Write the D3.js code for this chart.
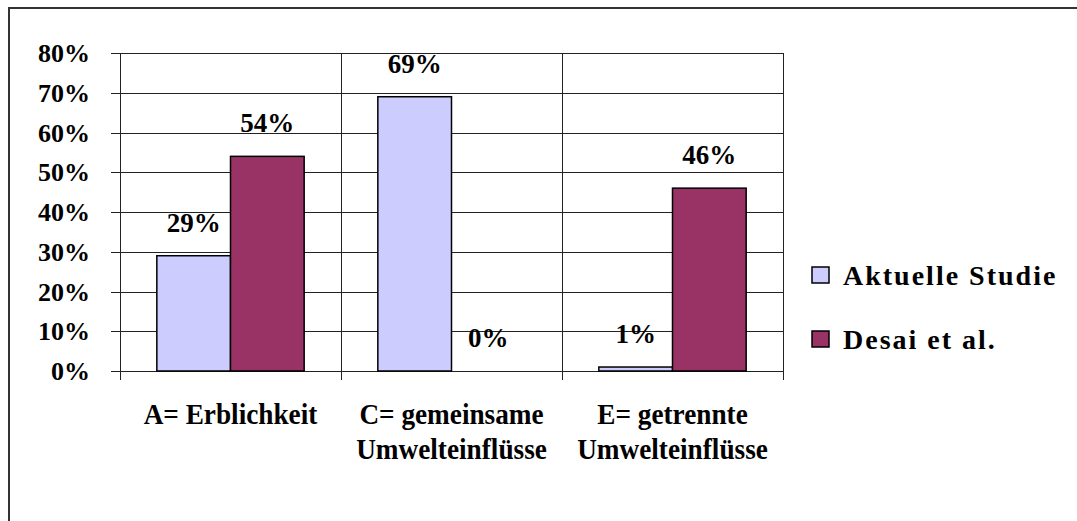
<!DOCTYPE html>
<html>
<head>
<meta charset="utf-8">
<script src="https://cdn.jsdelivr.net/npm/d3@7"></script>
</head>
<body style="margin:0">
<svg id="s" width="1077" height="521"></svg>
<script>
const categories = [["A= Erblichkeit"], ["C= gemeinsame", "Umwelteinflüsse"], ["E= getrennte", "Umwelteinflüsse"]];
const categoryKeys = ["A", "C", "E"];
const seriesNames = ["Aktuelle Studie", "Desai et al."];
const seriesColors = ["#CCCCFF", "#993366"];
const aktuelleStudie = [0.29, 0.69, 0.01];
const desai = [0.54, 0.00, 0.46];
const valueLabels = [["29%", "69%", "1%"], ["54%", "0%", "46%"]];
const yTicks = [0, 0.1, 0.2, 0.3, 0.4, 0.5, 0.6, 0.7, 0.8];
const yTickLabels = ["0%", "10%", "20%", "30%", "40%", "50%", "60%", "70%", "80%"];

const svg = d3.select("#s");
const W = 1077, H = 521;
function styleText(sel, size) {
  return sel.attr("font-family", "Liberation Serif")
    .style("font-family", `"Liberation Serif", "Times New Roman", serif`)
    .style("font-weight", "bold")
    .style("font-size", size + "px");
}

// outer frame (extends beyond right/bottom edges)
svg.append("rect").attr("x", 9).attr("y", 8).attr("width", W + 20).attr("height", H + 20)
  .attr("fill", "none").attr("stroke", "#333").attr("stroke-width", 2);

const plot = { left: 120, right: 783, top: 53, bottom: 371 };
const x = d3.scaleBand().domain(categoryKeys).range([plot.left, plot.right]).paddingInner(0).paddingOuter(0);
const x1 = d3.scaleBand().domain(seriesNames).range([0, x.bandwidth()]).paddingOuter(0.5).paddingInner(0);
const y = d3.scaleLinear().domain([0, 0.8]).range([plot.bottom, plot.top]);

// horizontal gridlines
svg.append("g").selectAll("line").data(yTicks).join("line")
  .attr("x1", plot.left - 9).attr("x2", plot.right)
  .attr("y1", d => Math.round(y(d)) + 0.5).attr("y2", d => Math.round(y(d)) + 0.5)
  .attr("stroke", "#222").attr("stroke-width", 1);

// vertical category separators
const bounds = categoryKeys.map(k => x(k)).concat([plot.right]);
svg.append("g").selectAll("line").data(bounds).join("line")
  .attr("x1", d => Math.round(d) + 0.5).attr("x2", d => Math.round(d) + 0.5)
  .attr("y1", plot.top).attr("y2", plot.bottom + 9)
  .attr("stroke", "#222").attr("stroke-width", 1);

// y tick labels
yTicks.forEach((d, i) => {
  styleText(svg.append("text"), 26)
    .attr("x", 90).attr("y", y(d) + 9)
    .attr("text-anchor", "end")
    .text(yTickLabels[i]);
});

// bars
const seriesData = [aktuelleStudie, desai];
seriesData.forEach((vals, si) => {
  svg.append("g").selectAll("rect").data(vals).join("rect")
    .attr("x", (d, i) => x(categoryKeys[i]) + x1(seriesNames[si]))
    .attr("y", d => y(d))
    .attr("width", x1.bandwidth())
    .attr("height", d => y(0) - y(d))
    .attr("fill", seriesColors[si])
    .attr("stroke", d => d > 0 ? "#000" : "none")
    .attr("stroke-width", 1.5);
  vals.forEach((d, i) => {
    styleText(svg.append("text"), 27)
      .attr("x", x(categoryKeys[i]) + x1(seriesNames[si]) + x1.bandwidth() / 2)
      .attr("y", y(d) - 24)
      .attr("text-anchor", "middle")
      .text(valueLabels[si][i]);
  });
});

// category labels (slightly condensed)
categories.forEach((lines, i) => {
  const cx = x(categoryKeys[i]) + x.bandwidth() / 2;
  const g = svg.append("g").attr("transform", `translate(${cx},0) scale(0.94,1)`);
  lines.forEach((ln, j) => {
    styleText(g.append("text"), 29).attr("x", 0).attr("y", 424 + j * 35)
      .attr("text-anchor", "middle").text(ln);
  });
});

// legend
const legendY = [267, 331];
seriesNames.forEach((name, i) => {
  svg.append("rect").attr("x", 812).attr("y", legendY[i]).attr("width", 17).attr("height", 16)
    .attr("fill", seriesColors[i]).attr("stroke", "#000").attr("stroke-width", 1.5);
  styleText(svg.append("text"), 28).attr("x", 843).attr("y", legendY[i] + 18)
    .style("letter-spacing", "2px").text(name);
});
</script>
</body>
</html>
